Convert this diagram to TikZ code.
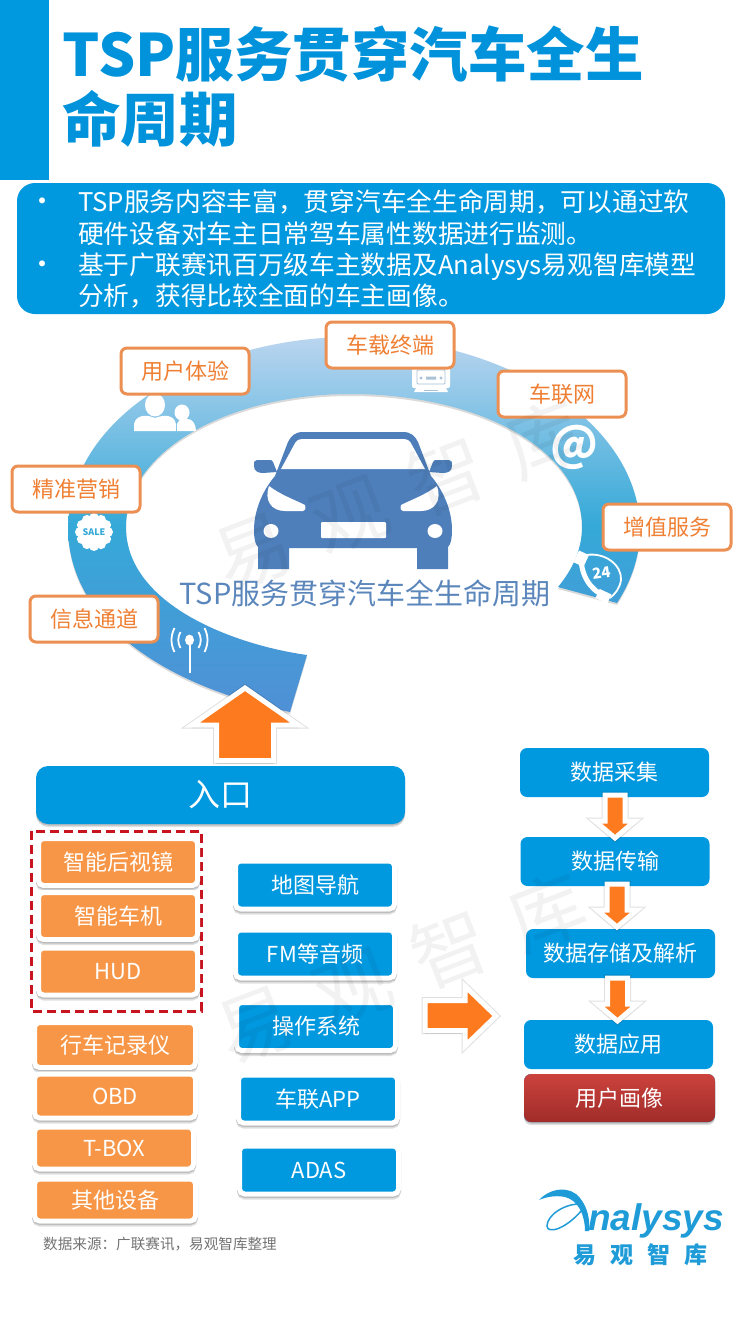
\documentclass[tikz,border=0pt]{standalone}
\usepackage{fontspec}
\setmainfont{Noto Sans CJK SC}
\newfontfamily\logofont{Liberation Sans}
\usepackage{tikz}
\usetikzlibrary{shadows}
\definecolor{tspblue}{HTML}{0098DF}
\definecolor{titleblue}{HTML}{0092DA}
\definecolor{carblue}{HTML}{4F7FBB}
\definecolor{captionblue}{HTML}{5B86BC}
\definecolor{softorange}{HTML}{F79646}
\definecolor{ringorange}{HTML}{EC8F52}
\definecolor{labelorange}{HTML}{EF7F33}
\definecolor{arroworange}{HTML}{FD7A1E}
\definecolor{dashred}{HTML}{C8141E}
\definecolor{logoblue}{HTML}{1F9BD7}
\definecolor{ringtop}{HTML}{BAD5EF}
\definecolor{ringmid}{HTML}{35A9D8}
\definecolor{ringbot}{HTML}{5090D6}
\definecolor{reportop}{HTML}{CC423D}
\definecolor{reporbot}{HTML}{A02C29}
\definecolor{iconblue}{HTML}{A9C2D6}
\tikzset{
    softshadow/.style={drop shadow={shadow xshift=0pt,shadow yshift=-1.5pt,opacity=.16,fill=black},
                       drop shadow={shadow xshift=0pt,shadow yshift=-3pt,opacity=.12,fill=black}},
    haloshadow/.style={drop shadow={shadow xshift=0pt,shadow yshift=-1.5pt,opacity=.14,fill=black,draw=black},
                       drop shadow={shadow xshift=0pt,shadow yshift=-3pt,opacity=.12,fill=black,draw=black}},
    ringlabel/.style={draw=ringorange,fill=white,line width=3pt,rounded corners=6pt,text=labelorange,
                      minimum width=128pt,minimum height=46pt,inner sep=0pt,font=\fontsize{22}{26}\selectfont},
    framedbox/.style={draw=white,line width=5pt,rounded corners=5pt,text=white,haloshadow,
                      minimum width=159pt,minimum height=48pt,inner sep=0pt,font=\fontsize{22}{26}\selectfont},
    orangebox/.style={framedbox,fill=softorange},
    cyanbox/.style={framedbox,fill=tspblue},
    flowbox/.style={fill=tspblue,rounded corners=7pt,text=white,minimum width=189pt,minimum height=49pt,
                    inner sep=0pt,font=\fontsize{22}{26}\selectfont},
    blockarrow/.style={fill=arroworange,draw=white,line width=5pt,haloshadow,
                       drop shadow={shadow xshift=0pt,shadow yshift=0pt,opacity=.12,fill=black,draw=black,line width=7pt}},
    wmark/.style={text=black,opacity=.05,rotate=21,font=\fontsize{76}{80}\selectfont},
}
\begin{document}
\begin{tikzpicture}[x=1pt,y=-1pt]
    \useasboundingbox (0,0) rectangle (743,1320);
    % title
    \fill[tspblue] (0,0) rectangle (49,180);
    \node[anchor=west,align=left,inner sep=0pt,text=titleblue,font=\fontsize{58.5}{65}\selectfont\bfseries] (title) at (62,87)
        {TSP服务贯穿汽车全生\\命周期};
    % summary
    \fill[tspblue,rounded corners=18pt] (17,183) rectangle (725,314);
    \node[text=white,inner sep=0pt,font=\fontsize{28}{31}\selectfont] (dotone) at (42,205) {•};
    \node[text=white,inner sep=0pt,font=\fontsize{28}{31}\selectfont] (dottwo) at (42,268) {•};
    \node[anchor=west,align=left,inner sep=0pt,text=white,font=\fontsize{25.7}{31.3}\selectfont] (briefone) at (78,217.5)
        {TSP服务内容丰富，贯穿汽车全生命周期，可以通过软\\硬件设备对车主日常驾车属性数据进行监测。};
    \node[anchor=west,align=left,inner sep=0pt,text=white,font=\fontsize{25.7}{31.3}\selectfont] (brieftwo) at (78,280.5)
        {基于广联赛讯百万级车主数据及Analysys易观智库模型\\分析，获得比较全面的车主画像。};
    % ring
    \path[top color=ringtop,bottom color=ringbot,middle color=ringmid,
          drop shadow={shadow xshift=0pt,shadow yshift=-2pt,opacity=.15,fill=black}]
        (307,655) .. controls (235,645) and (126,605) .. (126,527)
        .. controls (126,450) and (230,394) .. (350,394)
        .. controls (480,394) and (582,450) .. (582,527)
        .. controls (582,550) and (572,570) .. (558,587)
        -- (617,603)
        .. controls (632,580) and (640,555) .. (640,530)
        .. controls (640,420) and (500,337) .. (350,337)
        .. controls (215,337) and (68,410) .. (68,530)
        .. controls (70,620) and (160,685) .. (290,712) -- cycle;
    % icons on the ring
    \fill[white] (155,405) ellipse (10 and 11.5);
    \fill[white] (134,431) -- (134,424) .. controls (136,415) and (146,414) .. (155,418) .. controls (165,414) and (174,415) .. (176,424) -- (176,431) -- cycle;
    \fill[white] (182,412.5) ellipse (7.5 and 8);
    \fill[white] (177,431) -- (177,424) .. controls (178,419) and (186,417) .. (188,419) .. controls (192,419) and (196,424) .. (196,431) -- cycle;
    \fill[white,rounded corners=2pt] (412,364) rectangle (450,388);
    \fill[white] (416,388) -- (446,388) -- (448,392) -- (414,392) -- cycle;
    \draw[iconblue,line width=.8pt,rounded corners=1pt] (417,370) rectangle (445,384);
    \fill[iconblue] (421,378) circle (1.7) (441,378) circle (1.7) (426,376.5) rectangle (436,379.5);
    \draw[iconblue,line width=1pt] (424,390) -- (438,390);
    \node[text=white,inner sep=0pt,font=\fontsize{46}{50}\selectfont\bfseries] (atsign) at (574,447) {@};
    \begin{scope}[shift={(94,532)}]
        \fill[white] (0,0) circle (15);
        \foreach \a in {0,30,...,330} \fill[white] (\a:14) circle (5);
    \end{scope}
    \node[text=ringmid,inner sep=0pt,font=\fontsize{9}{10}\selectfont\bfseries] (sale) at (94,532) {SALE};
    \draw[white,line width=5pt] (581,557) .. controls (581,575) and (590,590) .. (605,596);
    \fill[white,rotate around={-25:(581,558)}] (576,552) rectangle (587,565);
    \fill[white,rotate around={-25:(603,596)}] (597,591) rectangle (610,601);
    \draw[white,line width=1.8pt] (586,555) .. controls (605,552) and (622,565) .. (621,580) .. controls (620,588) and (615,594) .. (610,598);
    \node[text=white,inner sep=0pt,rotate=8,font=\fontsize{15}{16}\selectfont\bfseries] (hours) at (602,573) {24};
    \fill[white] (189.5,640) ellipse (4.5 and 5.5);
    \draw[white,line width=2pt] (189.5,644) -- (189.5,673);
    \begin{scope}[shift={(189.5,640)}]
        \foreach \s in {1,-1} {
            \begin{scope}[xscale=\s]
                \draw[white,line width=1.8pt] (9,-8) .. controls (12,-3) and (12,3) .. (9,8);
                \draw[white,line width=1.8pt] (15,-12) .. controls (19,-4) and (19,4) .. (15,12);
            \end{scope}
        }
    \end{scope}
    % labels round the ring
    \node[ringlabel] (experience) at (185,371) {用户体验};
    \node[ringlabel] (terminal) at (390,345) {车载终端};
    \node[ringlabel] (network) at (562,394) {车联网};
    \node[ringlabel] (marketing) at (76,489) {精准营销};
    \node[ringlabel] (service) at (667,527) {增值服务};
    \node[ringlabel] (channel) at (94,619) {信息通道};
    % car
    \begin{scope}[shift={(353,0)}]
        \foreach \s in {1,-1} {
            \begin{scope}[xscale=\s]
                \fill[carblue] (-1,432) -- (50,432) .. controls (58,432) and (62,436) .. (65,442) -- (78,476)
                    .. controls (90,490) and (99,510) .. (99,530) .. controls (99,538) and (98,544) .. (95,547)
                    -- (95,569) -- (64,569) -- (64,548) -- (-1,548) -- cycle;
                \fill[carblue] (76,472) -- (80,462) .. controls (81,460) and (82,460) .. (84,460) -- (96,460)
                    .. controls (99,460) and (99,462) .. (99,466) .. controls (99,471) and (95,473) .. (90,473) -- cycle;
            \end{scope}
        }
        \fill[white] (0,439) -- (50,439) .. controls (55,439) and (57,441) .. (59,445) -- (72,469) -- (-72,469)
            -- (-59,445) .. controls (-57,441) and (-55,439) .. (-50,439) -- cycle;
        \fill[white,rounded corners=1pt] (-32,522) rectangle (33,538);
        \foreach \s in {1,-1} {
            \begin{scope}[xscale=\s]
                \fill[white] (84,486) .. controls (72,495) and (60,499) .. (48,505) .. controls (47,509) and (48,511) .. (50,511)
                    -- (68,511) .. controls (82,511) and (89,500) .. (84,486) -- cycle;
                \fill[white] (82,531) ellipse (7.5 and 7);
            \end{scope}
        }
    \end{scope}
    \node[text=captionblue,inner sep=0pt,font=\fontsize{29}{32}\selectfont] (caption) at (365,593) {TSP服务贯穿汽车全生命周期};
    % entrance
    \node[fill=tspblue,rounded corners=12pt,text=white,minimum width=369pt,minimum height=58pt,inner sep=0pt,
          softshadow,font=\fontsize{32}{36}\selectfont] (entrance) at (220.5,795) {入口};
    \draw[blockarrow] (216.5,760.5) -- (273.5,760.5) -- (273.5,725) -- (298,725) -- (245,688) -- (192,725) -- (216.5,725) -- cycle;
    \draw[dashred,line width=3pt,dash pattern=on 9pt off 5pt] (31,831) rectangle (201,1011);
    % devices
    \node[orangebox,minimum height=47pt] (mirror) at (118,862) {智能后视镜};
    \node[orangebox,minimum height=47pt] (headunit) at (118,916) {智能车机};
    \node[orangebox,minimum height=47pt] (hud) at (118,971.5) {HUD};
    \node[orangebox,minimum width=161pt,minimum height=45pt] (recorder) at (115,1045) {行车记录仪};
    \node[orangebox,minimum width=161pt,minimum height=44pt] (obd) at (115,1096) {OBD};
    \node[orangebox,minimum width=159pt,minimum height=42pt] (tbox) at (114,1148) {T-BOX};
    \node[orangebox,minimum width=161pt,minimum height=42pt] (others) at (115,1200) {其他设备};
    % services
    \node[cyanbox] (navigation) at (315,885) {地图导航};
    \node[cyanbox] (audio) at (315,954) {FM等音频};
    \node[cyanbox] (system) at (316,1026.5) {操作系统};
    \node[cyanbox] (carapp) at (318,1099) {车联APP};
    \node[cyanbox] (adas) at (319,1170) {ADAS};
    % data flow
    \node[flowbox] (collect) at (614.5,772.5) {数据采集};
    \node[flowbox] (transfer) at (615,861.5) {数据传输};
    \node[flowbox] (store) at (620.5,953.5) {数据存储及解析};
    \node[flowbox] (apply) at (618.5,1044.5) {数据应用};
    \node[flowbox,top color=reportop,bottom color=reporbot,minimum width=191pt,minimum height=48pt,softshadow] (portrait) at (619.5,1098) {用户画像};
    \foreach \ax/\ay in {615/795,617/884,617.5/978} {
        \draw[blockarrow,shift={(\ax,\ay)}] (-10,0) -- (10,0) -- (10,26) -- (20,26) -- (0,43) -- (-20,26) -- (-10,26) -- cycle;
    }
    \draw[blockarrow] (425,1000.5) -- (465,1000.5) -- (465,986) -- (496,1016) -- (465,1046) -- (465,1030.5) -- (425,1030.5) -- cycle;
    % source and logo
    \node[anchor=west,inner sep=0pt,text=black!55,font=\fontsize{14.6}{16}\selectfont] (source) at (43,1244) {数据来源：广联赛讯，易观智库整理};
    \fill[logoblue] (539,1200) .. controls (550,1188) and (570,1185) .. (580,1198) .. controls (588,1208) and (590,1220) .. (589,1231)
        -- (585,1231) .. controls (585,1215) and (578,1200) .. (565,1197) .. controls (555,1195) and (546,1197) .. (539,1200) -- cycle;
    \draw[logoblue,line width=1.5pt] (582,1204) .. controls (565,1203) and (547,1215) .. (547,1226) .. controls (547,1234) and (565,1230) .. (582,1210);
    \node[anchor=base west,inner sep=0pt,text=logoblue,font=\logofont\fontsize{37}{40}\selectfont\bfseries\itshape] (logotext) at (588,1230) {nalysys};
    \node[inner sep=0pt,text=logoblue,font=\fontsize{23}{26}\selectfont\bfseries] (logocn) at (640.5,1255) {易\hspace{14pt}观\hspace{14pt}智\hspace{14pt}库};
    % watermarks
    \node[wmark] (wmarkone) at (398,495) {易\hspace{28pt}观\hspace{28pt}智\hspace{28pt}库};
    \node[wmark] (wmarktwo) at (401,968) {易\hspace{28pt}观\hspace{28pt}智\hspace{28pt}库};
\end{tikzpicture}
\end{document}
